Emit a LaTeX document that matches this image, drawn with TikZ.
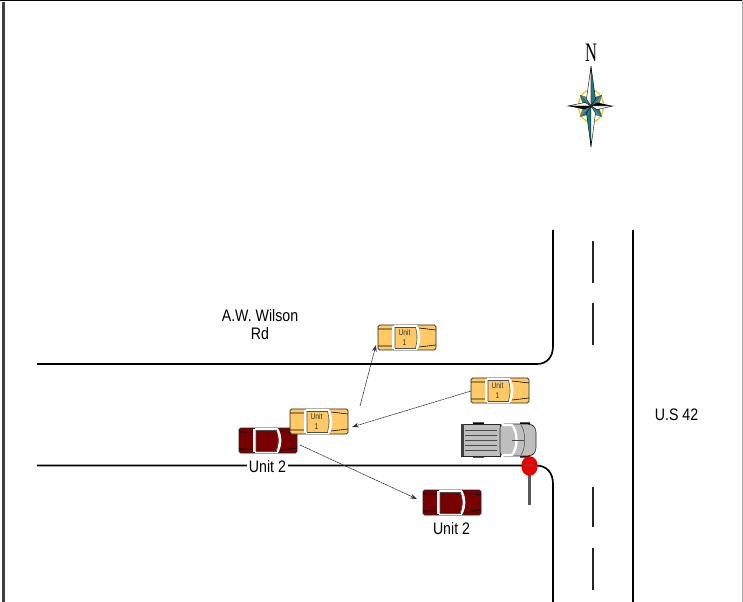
\documentclass[tikz,border=0pt]{standalone}
\usepackage{fontspec}
\setmainfont{Liberation Sans}
\newfontfamily\serifnorth{Liberation Serif}
\usetikzlibrary{arrows.meta}
\definecolor{caryellow}{HTML}{FFC966}
\definecolor{carred}{HTML}{780000}
\definecolor{compteal}{HTML}{1F7A80}
\definecolor{truckgray}{HTML}{BEBEBE}
\tikzset{
  x=0.75pt,y=-0.75pt,
  road/.style={line width=1.25pt,black},
  centerdash/.style={line width=1pt,black!85},
  track/.style={line width=0.45pt,black!80,dash pattern=on 1.5pt off 0.4pt,-{Stealth[length=5pt,width=3.5pt]}},
  lbl/.style={font=\fontsize{12.5pt}{13.5pt}\selectfont,text=black,inner sep=1pt,align=center,xscale=0.85},
  carunit/.style={font=\fontsize{6.3pt}{7pt}\selectfont,text=black!80,inner sep=0pt,align=center,xscale=0.8},
  pics/car/.style={code={
    \draw[black!85,line width=0.5pt,fill=#1,rounded corners=1.2pt] (0,0) rectangle (58,25);
    \draw[black,line width=0.45pt] (0,4) -- (15,4) (0,21) -- (15,21) (41,3) -- (58,5) (41,22) -- (58,20);
    \draw[white,line width=1.6pt] (15.5,1) -- (15.5,24) (16,1.2) -- (39,1.2) (16,23.8) -- (39,23.8);
    \draw[white,line width=2pt] (38,1) .. controls (42,8) and (42,17) .. (38,24);
    \draw[black!70,line width=0.4pt] (17,2.2) -- (17,22.8) (37.5,2.2) .. controls (39.5,9) and (39.5,16) .. (37.5,22.8);
    \draw[black!70,line width=0.4pt] (17,2.2) -- (37.5,2.2) (17,22.8) -- (37.5,22.8);
  }},
}
\begin{document}
\begin{tikzpicture}
\useasboundingbox (0,0) rectangle (743,602);
\fill[white] (0,0) rectangle (743,602);
% frame
\draw[black,line width=1pt] (0,0.6) -- (743,0.6);
\draw[black!75,line width=2pt] (3.5,2) -- (3.5,602);
\draw[black!35,line width=0.8pt] (742.4,0) -- (742.4,602);
% roads
\draw[road] (37,364) -- (537,364) .. controls (547,364) and (553,357) .. (553,346) -- (553,230);
\draw[road] (37,465.5) -- (537,465.5) .. controls (547,466) and (553,473) .. (553,484) -- (553,602);
\draw[road] (632.9,230) -- (632.9,602);
\foreach \ya/\yb in {241/283,303/345,487/527,548/590}
  \draw[centerdash] (593,\ya) -- (593,\yb);
% cars
\pic at (378,325) {car=caryellow};
\node[carunit] (u1c) at (404.5,337.5) {Unit\\1};
\pic at (471,378) {car=caryellow};
\node[carunit] (u1a) at (497.5,390.5) {Unit\\1};
\pic at (239,428) {car=carred};
\pic at (290,409) {car=caryellow};
\node[carunit] (u1b) at (316.5,421.5) {Unit\\1};
\pic at (423,490) {car=carred};
% truck
\fill[black] (473,422.5) rectangle (484,425) (520,422.5) rectangle (530,425)
  (473,455) rectangle (484,457.5) (520,455) rectangle (530,457.5);
\draw[black!85,line width=0.4pt,fill=truckgray] (461,424) rectangle (500,456);
\fill[black!75] (461,424) rectangle (463.5,456);
\foreach \y in {430,435,440,445,450} \draw[black!70,line width=0.7pt] (465,\y) -- (497,\y);
\draw[black!85,line width=0.4pt,fill=truckgray,rounded corners=3pt] (500,424) -- (531,424) -- (536,428) -- (536,452) -- (531,456) -- (500,456) -- cycle;
\draw[white,line width=1.7pt] (502,425) -- (512,425) .. controls (518,432) and (518,448) .. (512,455) -- (502,455);
\draw[black!70,line width=0.4pt] (512,440) -- (524,440);
\draw[black!70,line width=0.4pt] (521,425) .. controls (526,432) and (526,448) .. (521,455);
% stop sign
\draw[black!65,line width=1.7pt] (529.5,470) -- (529.5,505);
\fill[red!92!black] (529.5,466) ellipse (8.2 and 9.8);
\node[font=\fontsize{3pt}{3pt}\selectfont,text=black!60,inner sep=0pt] (stoptext) at (529.5,466) {STOP};
% connectors
\coordinate (a1) at (471,391);
\coordinate (a2) at (352,427);
\coordinate (b1) at (360,406);
\coordinate (b2) at (376,345);
\coordinate (c1) at (300,445);
\coordinate (c2) at (417,499);
\draw[track] (a1) -- (a2);
\draw[track] (b1) -- (b2);
\draw[track] (c1) -- (c2);
% labels
\node[lbl] (road) at (260,325) {A.W. Wilson\\Rd};
\node[lbl,fill=white,inner sep=1.5pt] (unit2a) at (267.5,467) {Unit 2};
\node[lbl] (unit2b) at (451.5,529) {Unit 2};
\node[lbl] (us42) at (676.5,414.5) {U.S 42};
% compass
\begin{scope}[shift={(591,106)}]
  \draw[yellow!85!black,line width=1pt,fill=white] (0,0) ellipse (12.5 and 16);
  \foreach \a in {45,135,225,315}{
    \begin{scope}[rotate=\a]
      \fill[compteal,draw=black!70,line width=0.25pt] (0,0) -- (5,-5.5) -- (15,0) -- cycle;
      \fill[compteal!80,draw=black!70,line width=0.25pt] (0,0) -- (5,5.5) -- (15,0) -- cycle;
    \end{scope}}
  \fill[white,draw=black,line width=0.3pt] (0,-40) -- (-4.5,-7) -- (0,0) -- cycle;
  \fill[compteal,draw=black,line width=0.3pt] (0,-40) -- (4.5,-7) -- (0,0) -- cycle;
  \fill[compteal,draw=black,line width=0.3pt] (0,41) -- (-4.5,7) -- (0,0) -- cycle;
  \fill[white,draw=black,line width=0.3pt] (0,41) -- (4.5,7) -- (0,0) -- cycle;
  \fill[white,draw=black,line width=0.3pt] (-23,0) -- (-6,-3.5) -- (0,0) -- cycle;
  \fill[black] (-23,0) -- (-6,3.5) -- (0,0) -- cycle;
  \fill[black] (22,0) -- (6,-3.5) -- (0,0) -- cycle;
  \fill[white,draw=black,line width=0.3pt] (22,0) -- (6,3.5) -- (0,0) -- cycle;
\end{scope}
\node[font=\serifnorth\fontsize{20pt}{20pt}\selectfont,inner sep=0pt,xscale=0.62] (north) at (591,53) {N};
\end{tikzpicture}
\end{document}
